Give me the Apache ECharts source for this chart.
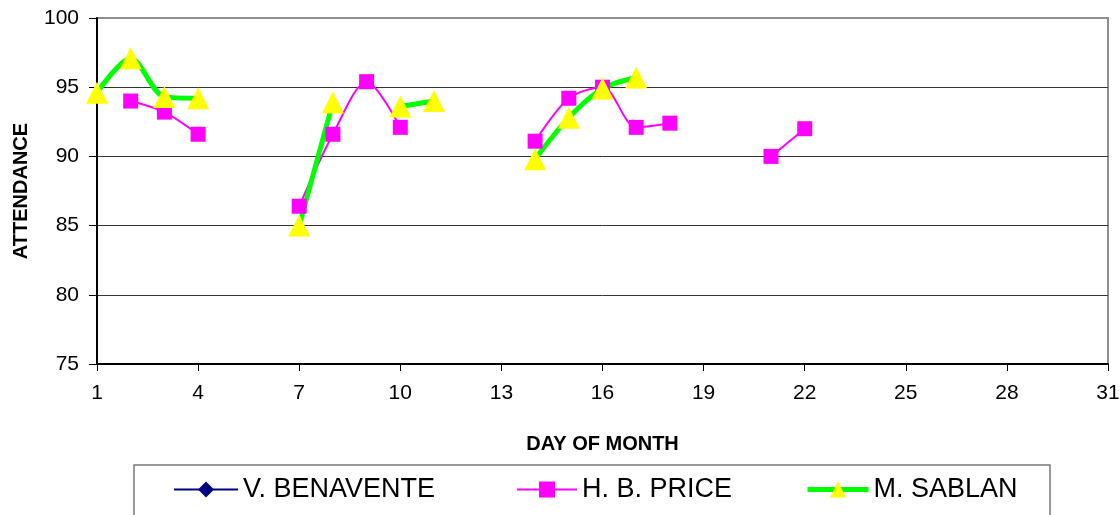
<!DOCTYPE html>
<html>
<head>
<meta charset="utf-8">
<script src="https://cdn.jsdelivr.net/npm/echarts@6/dist/echarts.min.js"></script>
<style>html,body{margin:0;padding:0;background:#fff;}#c{width:1120px;height:515px;}</style>
</head>
<body>
<div id="c"></div>
<script>
// Days of month (categories)
var days = [];
for (var d = 1; d <= 31; d++) days.push(String(d));

// Series values, one per day (null = no data)
var benavente = [null,null,null,null,null,null,null,null,null,null,null,null,null,null,null,null,null,null,null,null,null,null,null,null,null,null,null,null,null,null,null];
var price = [null,94.0,93.2,91.6,null,null,86.4,91.6,95.4,92.1,null,null,null,91.1,94.2,95.0,92.1,92.4,null,null,90.0,92.0,null,null,null,null,null,null,null,null,null];
var sablan = [94.6,97.1,94.3,94.2,null,null,85.0,93.9,null,93.6,94.0,null,null,89.8,92.8,94.9,95.7,null,null,null,null,null,null,null,null,null,null,null,null,null,null];

var yTicks = [75, 80, 85, 90, 95, 100];

var FONT = "'Liberation Sans', Arial, sans-serif";
var chart = echarts.init(document.getElementById('c'), null, {renderer: 'canvas'});

function mkLegend(name, left, itemWidth, lineWidth) {
  return {
    data: [name], left: left, top: 476, orient: 'horizontal',
    itemWidth: itemWidth, itemHeight: 20, selectedMode: false, padding: 0,
    lineStyle: {width: lineWidth},
    textStyle: {fontFamily: FONT, fontSize: 27, color: '#000'}
  };
}

chart.setOption({
  animation: false,
  backgroundColor: '#fff',
  graphic: [{
    type: 'rect', z: -1,
    shape: {x: 134, y: 465, width: 916, height: 70},
    style: {fill: '#fff', stroke: '#777', lineWidth: 1.5}
  }],
  grid: {left: 97, right: 12, top: 18, bottom: 151, outerBoundsMode: 'none', containLabel: false,
         show: true, borderColor: '#8f8f8f', borderWidth: 2, backgroundColor: 'transparent'},
  legend: [
    mkLegend('V. BENAVENTE', 173, 64, 2),
    mkLegend('H. B. PRICE', 516, 60, 2),
    mkLegend('M. SABLAN', 805, 61, 5)
  ],
  xAxis: {
    type: 'category', data: days, boundaryGap: false,
    name: 'DAY OF MONTH', nameLocation: 'middle', nameGap: 70,
    nameTextStyle: {fontFamily: FONT, fontSize: 20, fontWeight: 'bold', color: '#000'},
    axisLine: {lineStyle: {color: '#000', width: 2}},
    axisTick: {show: true, interval: 2, length: 7, inside: false, lineStyle: {color: '#000', width: 1}},
    axisLabel: {interval: 2, margin: 19, fontFamily: FONT, fontSize: 21, color: '#000'},
    splitLine: {show: false}
  },
  yAxis: {
    type: 'value', min: yTicks[0], max: yTicks[yTicks.length - 1], interval: 5,
    name: 'ATTENDANCE', nameLocation: 'middle', nameGap: 66, nameRotate: 90,
    nameTextStyle: {fontFamily: FONT, fontSize: 20, fontWeight: 'bold', color: '#000'},
    axisLine: {show: true, lineStyle: {color: '#000', width: 2}},
    axisTick: {show: true, length: 8, lineStyle: {color: '#000', width: 1}},
    axisLabel: {margin: 18, fontFamily: FONT, fontSize: 21, color: '#000'},
    splitLine: {show: true, lineStyle: {color: ['#333','#333','#333','#333','#333','#8f8f8f'], width: 1}}
  },
  series: [
    {
      name: 'V. BENAVENTE', type: 'line', data: benavente,
      symbol: 'diamond', symbolSize: 12, connectNulls: false, showAllSymbol: true,
      lineStyle: {color: '#000080', width: 2},
      itemStyle: {color: '#000080'}
    },
    {
      name: 'H. B. PRICE', type: 'line', data: price, smooth: 0.3,
      symbol: 'rect', symbolSize: 15, connectNulls: false, showAllSymbol: true,
      lineStyle: {color: '#FF00FF', width: 2},
      itemStyle: {color: '#FF00FF', borderWidth: 0}
    },
    {
      name: 'M. SABLAN', type: 'line', data: sablan, smooth: 0.3,
      symbol: 'triangle', symbolSize: 22, connectNulls: false, showAllSymbol: true,
      lineStyle: {color: '#00FF00', width: 5},
      itemStyle: {color: '#FFFF00', borderWidth: 0}
    }
  ]
});
</script>
</body>
</html>
